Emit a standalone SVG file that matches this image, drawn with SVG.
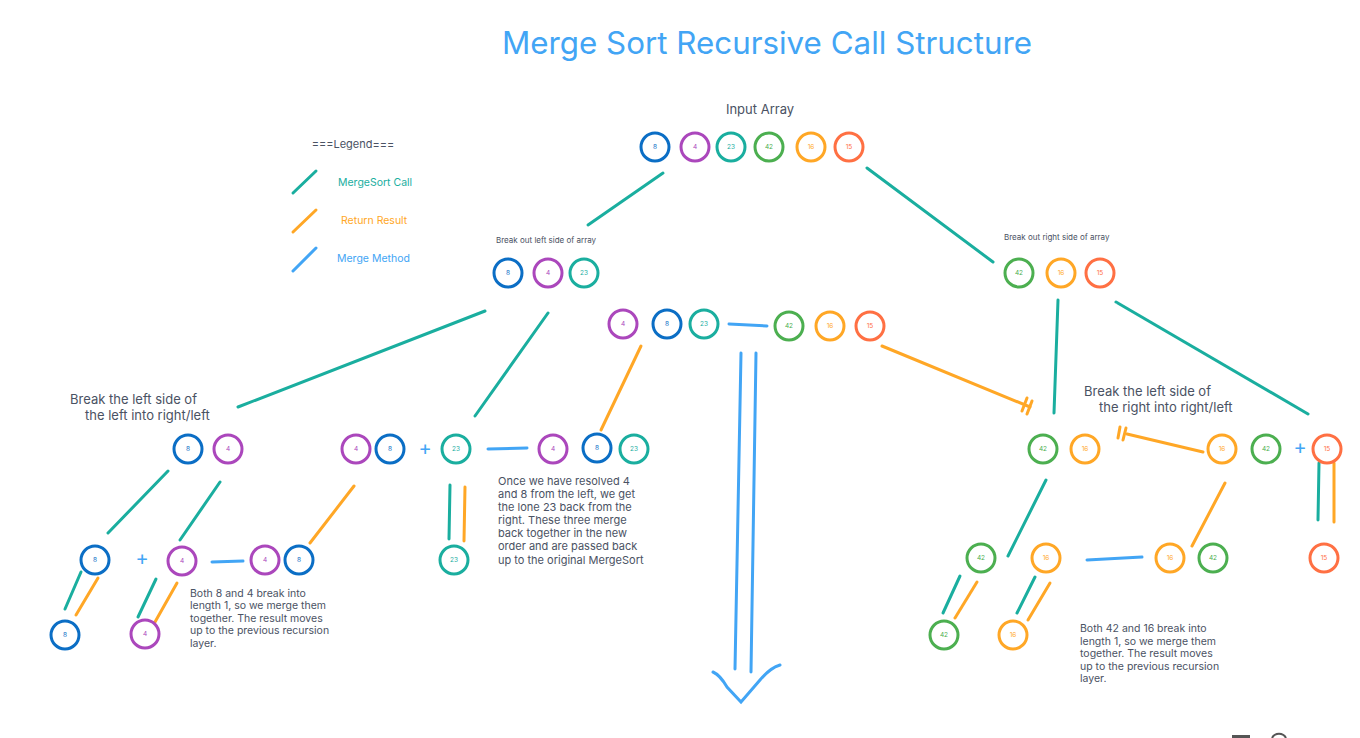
<svg xmlns="http://www.w3.org/2000/svg" width="1360" height="738" viewBox="0 0 1360 738">
<style>
  .bg{fill:#ffffff}
  .c circle{fill:#ffffff;stroke-width:3}
  .c text{font-family:Inter,"Liberation Sans",sans-serif;font-size:6.5px;text-anchor:middle;dominant-baseline:central}
  .b circle{stroke:#0B6EC5}.b text{fill:#0B6EC5}
  .p circle{stroke:#AB47BC}.p text{fill:#AB47BC}
  .g circle{stroke:#1AAE9F}.g text{fill:#1AAE9F}
  .gr circle{stroke:#4CAF50}.gr text{fill:#4CAF50}
  .o circle{stroke:#FFA726}.o text{fill:#FFA726}
  .r circle{stroke:#FF7043}.r text{fill:#FF7043}
  .ln{fill:none;stroke-width:3;stroke-linecap:round}
  .teal{stroke:#1AAE9F}
  .org{stroke:#FFA726}
  .blu{stroke:#42A5F5}
  .lbl{font-family:Inter,"Liberation Sans",sans-serif;fill:#4A5263}
  .plus{font-family:Inter,"Liberation Sans",sans-serif;fill:#42A5F5;font-size:20px;text-anchor:middle;dominant-baseline:central}
</style>
<rect class="bg" x="0" y="0" width="1360" height="738"/>
<text x="767" y="54" font-family="Inter,'Liberation Sans',sans-serif" font-size="31" fill="#42A5F5" text-anchor="middle" textLength="530" lengthAdjust="spacingAndGlyphs">Merge Sort Recursive Call Structure</text>

<g id="legend">
  <text class="lbl" x="353" y="148" font-size="11" text-anchor="middle">===Legend===</text>
  <line class="ln teal" x1="293" y1="193" x2="316" y2="171"/>
  <text x="338" y="186" font-family="Inter,'Liberation Sans',sans-serif" font-size="10.5" fill="#1AAE9F">MergeSort Call</text>
  <line class="ln org" x1="293" y1="232" x2="316" y2="210"/>
  <text x="341" y="224" font-family="Inter,'Liberation Sans',sans-serif" font-size="10.5" fill="#FFA726">Return Result</text>
  <line class="ln blu" x1="293" y1="271" x2="316" y2="248"/>
  <text x="337" y="262" font-family="Inter,'Liberation Sans',sans-serif" font-size="10.5" fill="#42A5F5">Merge Method</text>
</g>

<g id="labels">
  <text class="lbl" x="760" y="114" font-size="13" text-anchor="middle">Input Array</text>
  <text class="lbl" x="496" y="243" font-size="8">Break out left side of array</text>
  <text class="lbl" x="1004" y="240" font-size="8">Break out right side of array</text>
  <text class="lbl" x="70" y="404" font-size="13">Break the left side of</text>
  <text class="lbl" x="85" y="420" font-size="13">the left into right/left</text>
  <text class="lbl" x="1084" y="396" font-size="13">Break the left side of</text>
  <text class="lbl" x="1099" y="412" font-size="13">the right into right/left</text>
  <text class="lbl" font-size="11">
    <tspan x="498" y="485">Once we have resolved 4</tspan>
    <tspan x="498" y="498">and 8 from the left, we get</tspan>
    <tspan x="498" y="511">the lone 23 back from the</tspan>
    <tspan x="498" y="524">right. These three merge</tspan>
    <tspan x="498" y="537">back together in the new</tspan>
    <tspan x="498" y="550">order and are passed back</tspan>
    <tspan x="498" y="564">up to the original MergeSort</tspan>
  </text>
  <text class="lbl" font-size="10.5">
    <tspan x="190" y="597">Both 8 and 4 break into</tspan>
    <tspan x="190" y="609">length 1, so we merge them</tspan>
    <tspan x="190" y="622">together. The result moves</tspan>
    <tspan x="190" y="634">up to the previous recursion</tspan>
    <tspan x="190" y="647">layer.</tspan>
  </text>
  <text class="lbl" font-size="10.5">
    <tspan x="1080" y="632">Both 42 and 16 break into</tspan>
    <tspan x="1080" y="645">length 1, so we merge them</tspan>
    <tspan x="1080" y="657">together. The result moves</tspan>
    <tspan x="1080" y="670">up to the previous recursion</tspan>
    <tspan x="1080" y="682">layer.</tspan>
  </text>
  <text class="plus" x="425" y="448">+</text>
  <text class="plus" x="142" y="558">+</text>
  <text class="plus" x="1300" y="447">+</text>
</g>

<g id="connectors">
  <line class="ln teal" x1="663" y1="173" x2="588" y2="225"/>
  <line class="ln teal" x1="867" y1="168" x2="993" y2="262"/>
  <line class="ln blu" x1="729" y1="324" x2="767" y2="326"/>
  <line class="ln blu" x1="741" y1="353" x2="735" y2="669"/>
  <line class="ln blu" x1="756" y1="353" x2="751" y2="672"/>
  <path class="ln blu" d="M713,672 Q720,675 727,687 L741,702 L760,680 Q770,668 780,665"/>
  <line class="ln teal" x1="485" y1="311" x2="238" y2="407"/>
  <line class="ln teal" x1="548" y1="313" x2="475" y2="416"/>
  <line class="ln org" x1="641" y1="346" x2="601" y2="430"/>
  <line class="ln org" x1="882" y1="346" x2="1030" y2="407"/>
  <line class="ln org" x1="1032" y1="401" x2="1027" y2="414"/>
  <line class="ln org" x1="1027" y1="398" x2="1022" y2="411"/>
  <line class="ln teal" x1="168" y1="471" x2="108" y2="533"/>
  <line class="ln teal" x1="220" y1="482" x2="180" y2="540"/>
  <line class="ln blu" x1="488" y1="449" x2="527" y2="448"/>
  <line class="ln org" x1="354" y1="486" x2="310" y2="543"/>
  <line class="ln teal" x1="450" y1="485" x2="449" y2="539"/>
  <line class="ln org" x1="465" y1="487" x2="464" y2="541"/>
  <line class="ln blu" x1="212" y1="562" x2="243" y2="561"/>
  <line class="ln teal" x1="81" y1="572" x2="65" y2="609"/>
  <line class="ln org" x1="98" y1="578" x2="76" y2="615"/>
  <line class="ln teal" x1="156" y1="579" x2="138" y2="617"/>
  <line class="ln org" x1="177" y1="583" x2="155" y2="622"/>
  <line class="ln teal" x1="1058" y1="300" x2="1054" y2="413"/>
  <line class="ln teal" x1="1116" y1="302" x2="1308" y2="414"/>
  <line class="ln org" x1="1203" y1="452" x2="1127" y2="434"/>
  <line class="ln org" x1="1126" y1="428" x2="1123" y2="440"/>
  <line class="ln org" x1="1120" y1="427" x2="1118" y2="438"/>
  <line class="ln teal" x1="1319" y1="463" x2="1318" y2="520"/>
  <line class="ln org" x1="1334" y1="463" x2="1334" y2="522"/>
  <line class="ln teal" x1="1046" y1="480" x2="1008" y2="556"/>
  <line class="ln org" x1="1225" y1="483" x2="1192" y2="546"/>
  <line class="ln blu" x1="1087" y1="560" x2="1142" y2="557"/>
  <line class="ln teal" x1="960" y1="576" x2="943" y2="613"/>
  <line class="ln org" x1="977" y1="582" x2="955" y2="618"/>
  <line class="ln teal" x1="1035" y1="577" x2="1017" y2="613"/>
  <line class="ln org" x1="1050" y1="583" x2="1028" y2="620"/>
</g>

<g id="input-array">
  <g id="in-8" class="c b"><circle cx="655" cy="147" r="14"/><text x="655" y="147">8</text></g>
  <g id="in-4" class="c p"><circle cx="695" cy="147" r="14"/><text x="695" y="147">4</text></g>
  <g id="in-23" class="c g"><circle cx="731" cy="147" r="14"/><text x="731" y="147">23</text></g>
  <g id="in-42" class="c gr"><circle cx="769" cy="147" r="14"/><text x="769" y="147">42</text></g>
  <g id="in-16" class="c o"><circle cx="811" cy="147" r="14"/><text x="811" y="147">16</text></g>
  <g id="in-15" class="c r"><circle cx="849" cy="147" r="14"/><text x="849" y="147">15</text></g>
</g>

<g id="left-sub">
  <g id="ls-8" class="c b"><circle cx="508" cy="273" r="14"/><text x="508" y="273">8</text></g>
  <g id="ls-4" class="c p"><circle cx="548" cy="273" r="14"/><text x="548" y="273">4</text></g>
  <g id="ls-23" class="c g"><circle cx="584" cy="273" r="14"/><text x="584" y="273">23</text></g>
</g>

<g id="right-sub">
  <g id="rs-42" class="c gr"><circle cx="1019" cy="273" r="14"/><text x="1019" y="273">42</text></g>
  <g id="rs-16" class="c o"><circle cx="1061" cy="273" r="14"/><text x="1061" y="273">16</text></g>
  <g id="rs-15" class="c r"><circle cx="1100" cy="273" r="14"/><text x="1100" y="273">15</text></g>
</g>

<g id="merged-row">
  <g id="m-4" class="c p"><circle cx="623" cy="324" r="14"/><text x="623" y="324">4</text></g>
  <g id="m-8" class="c b"><circle cx="667" cy="324" r="14"/><text x="667" y="324">8</text></g>
  <g id="m-23" class="c g"><circle cx="704" cy="324" r="14"/><text x="704" y="324">23</text></g>
  <g id="m-42" class="c gr"><circle cx="789" cy="326" r="14"/><text x="789" y="326">42</text></g>
  <g id="m-16" class="c o"><circle cx="830" cy="326" r="14"/><text x="830" y="326">16</text></g>
  <g id="m-15" class="c r"><circle cx="870" cy="326" r="14"/><text x="870" y="326">15</text></g>
</g>

<g id="left-l2">
  <g id="l2-8" class="c b"><circle cx="188" cy="449" r="14"/><text x="188" y="449">8</text></g>
  <g id="l2-4" class="c p"><circle cx="228" cy="449" r="14"/><text x="228" y="449">4</text></g>
  <g id="l2r-4" class="c p"><circle cx="356" cy="449" r="14"/><text x="356" y="449">4</text></g>
  <g id="l2r-8" class="c b"><circle cx="390" cy="449" r="14"/><text x="390" y="449">8</text></g>
  <g id="l2-23" class="c g"><circle cx="456" cy="449" r="14"/><text x="456" y="449">23</text></g>
  <g id="l2m-4" class="c p"><circle cx="553" cy="449" r="14"/><text x="553" y="449">4</text></g>
  <g id="l2m-8" class="c b"><circle cx="597" cy="448" r="14"/><text x="597" y="448">8</text></g>
  <g id="l2m-23" class="c g"><circle cx="634" cy="449" r="14"/><text x="634" y="449">23</text></g>
  <g id="l3-23" class="c g"><circle cx="454" cy="560" r="14"/><text x="454" y="560">23</text></g>
</g>

<g id="left-l3">
  <g id="l3-8" class="c b"><circle cx="95" cy="560" r="14"/><text x="95" y="560">8</text></g>
  <g id="l3-4" class="c p"><circle cx="182" cy="561" r="14"/><text x="182" y="561">4</text></g>
  <g id="l3m-4" class="c p"><circle cx="265" cy="560" r="14"/><text x="265" y="560">4</text></g>
  <g id="l3m-8" class="c b"><circle cx="299" cy="560" r="14"/><text x="299" y="560">8</text></g>
  <g id="l4-8" class="c b"><circle cx="65" cy="635" r="14"/><text x="65" y="635">8</text></g>
  <g id="l4-4" class="c p"><circle cx="145" cy="634" r="14"/><text x="145" y="634">4</text></g>
</g>

<g id="right-l2">
  <g id="r2-42" class="c gr"><circle cx="1043" cy="449" r="14"/><text x="1043" y="449">42</text></g>
  <g id="r2-16" class="c o"><circle cx="1085" cy="449" r="14"/><text x="1085" y="449">16</text></g>
  <g id="r2m-16" class="c o"><circle cx="1222" cy="449" r="14"/><text x="1222" y="449">16</text></g>
  <g id="r2m-42" class="c gr"><circle cx="1266" cy="449" r="14"/><text x="1266" y="449">42</text></g>
  <g id="r2-15" class="c r"><circle cx="1327" cy="449" r="14"/><text x="1327" y="449">15</text></g>
  <g id="r3-15" class="c r"><circle cx="1324" cy="558" r="14"/><text x="1324" y="558">15</text></g>
</g>

<g id="right-l3">
  <g id="r3-42" class="c gr"><circle cx="981" cy="558" r="14"/><text x="981" y="558">42</text></g>
  <g id="r3-16" class="c o"><circle cx="1046" cy="558" r="14"/><text x="1046" y="558">16</text></g>
  <g id="r3m-16" class="c o"><circle cx="1170" cy="558" r="14"/><text x="1170" y="558">16</text></g>
  <g id="r3m-42" class="c gr"><circle cx="1213" cy="558" r="14"/><text x="1213" y="558">42</text></g>
  <g id="r4-42" class="c gr"><circle cx="944" cy="635" r="14"/><text x="944" y="635">42</text></g>
  <g id="r4-16" class="c o"><circle cx="1013" cy="635" r="14"/><text x="1013" y="635">16</text></g>
</g>

<g id="corner-icons">
  <rect x="1232" y="735" width="18" height="3" fill="#555555"/>
  <path d="M1272,738 A8,8 0 0 1 1286,738" fill="none" stroke="#555555" stroke-width="2"/>
</g>
</svg>
